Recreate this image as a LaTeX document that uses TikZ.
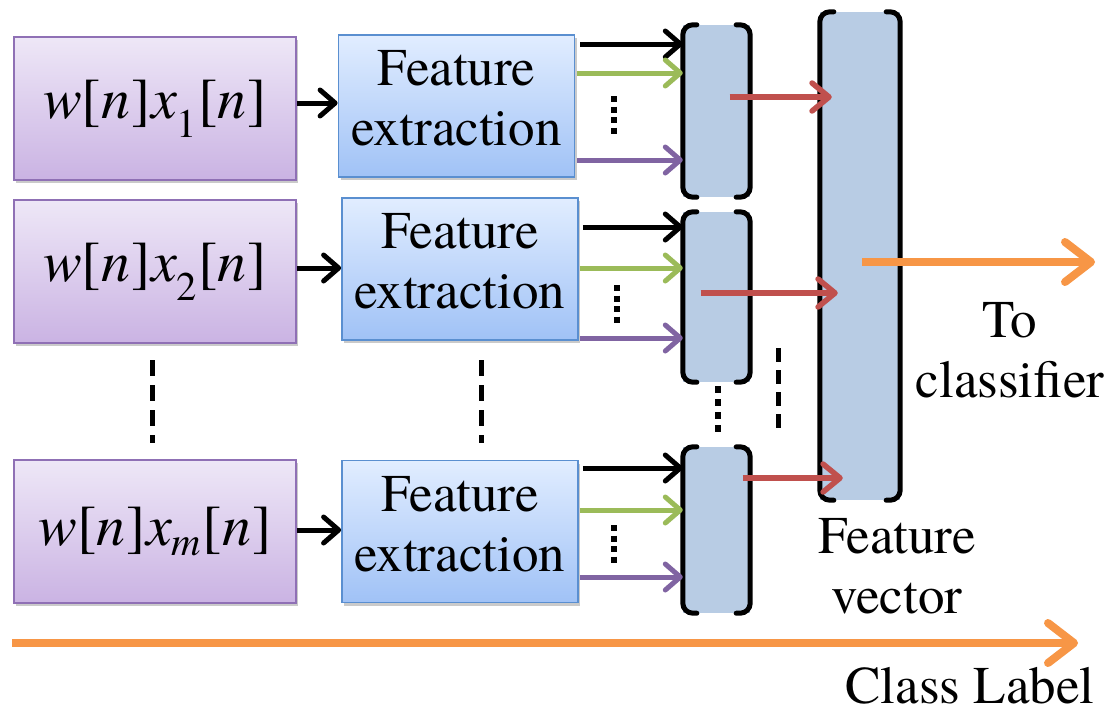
\documentclass[tikz,border=0pt]{standalone}
\usepackage{fontspec}
\setmainfont{texgyretermes}[Extension=.otf, UprightFont=*-regular, ItalicFont=*-italic,
  BoldFont=*-bold, BoldItalicFont=*-bolditalic]
\usetikzlibrary{arrows.meta,shadows,calc}

\definecolor{sigtop}{HTML}{EEE7F7}
\definecolor{sigbot}{HTML}{CAB3E3}
\definecolor{sigedge}{HTML}{8F70B5}
\definecolor{fetop}{HTML}{E1EDFF}
\definecolor{febot}{HTML}{A0C2F6}
\definecolor{feedge}{HTML}{5A8FD0}
\definecolor{vecfill}{HTML}{B8CCE4}
\definecolor{featgreen}{HTML}{9BBB59}
\definecolor{featpurple}{HTML}{8064A2}
\definecolor{featred}{HTML}{C0504D}
\definecolor{outorange}{HTML}{F79646}

% weighted signal w[n] x_k[n]
\newcommand{\wsig}[1]{\textit{w}[\textit{n}\kern1pt]\kern1pt\textit{x}\kern-1pt\textsubscript{#1}\kern1pt[\textit{n}\kern1pt]}

\begin{document}
\begin{tikzpicture}[x=1pt,y=-1pt,
  bigfont/.style={font=\fontsize{53}{60}\selectfont},
  sigfont/.style={font=\fontsize{58}{60}\selectfont},
  boxshadow/.style={drop shadow={shadow xshift=2pt,shadow yshift=-3pt,opacity=0.35,fill=black!60}},
  sigbox/.style={draw=sigedge, line width=1.8pt, top color=sigtop, bottom color=sigbot,
    minimum width=282pt, minimum height=143pt, inner sep=0pt, boxshadow, sigfont},
  febox/.style={draw=feedge, line width=1.8pt, top color=fetop, bottom color=febot,
    minimum width=236pt, minimum height=142pt, inner sep=0pt, align=center, boxshadow, bigfont},
  vecbox/.style={fill=vecfill, draw=none, inner sep=0pt},
  bracket/.style={line width=5pt, rounded corners=10pt, line cap=round},
  tiparrow/.style={line width=5pt, -{Straight Barb[length=15pt,width=26pt,line cap=round,line join=round]}},
  blkarr/.style={tiparrow, black},
  grnarr/.style={tiparrow, featgreen},
  purarr/.style={tiparrow, featpurple},
  redarr/.style={line width=5.5pt, featred, -{Straight Barb[length=17pt,width=28pt,line cap=round,line join=round]}},
  orangearr/.style={line width=8pt, outorange, -{Straight Barb[length=26pt,width=40pt,line cap=round,line join=round]}},
  rowdots/.style={line width=5.5pt, dash pattern=on 6pt off 4.5pt},
  gapdash/.style={line width=5pt, dash pattern=on 16pt off 9pt},
  txtlabel/.style={bigfont, inner sep=0pt, align=center}
]
\useasboundingbox (0,0) rectangle (1116,713);

% weighted input signals
\node[sigbox] (p1) at (155,108.5) {\wsig{1}};
\node[sigbox] (p2) at (155,271.5) {\wsig{2}};
\node[sigbox] (pm) at (155,531.5) {\wsig{\textit{m}}};

% feature extraction blocks
\node[febox] (f1) at (456.5,106) {Feature\\extraction\rule[-16pt]{0pt}{16pt}};
\node[febox] (f2) at (460,269) {Feature\\extraction\rule[-16pt]{0pt}{16pt}};
\node[febox] (fm) at (460,531.5) {Feature\\extraction\rule[-16pt]{0pt}{16pt}};

% per-signal feature vectors
\node[vecbox, minimum width=67pt, minimum height=172pt] (v1) at (716.5,111) {};
\node[vecbox, minimum width=67pt, minimum height=170pt] (v2) at (716.5,297) {};
\node[vecbox, minimum width=67pt, minimum height=166pt] (vm) at (716.5,530) {};
% combined feature vector
\node[vecbox, minimum width=80pt, minimum height=488pt] (fv) at (860,256) {};

\foreach \v in {v1,v2,vm,fv}{
  \draw[bracket] ([xshift=14pt]\v.north west) -- (\v.north west) -- (\v.south west) -- ([xshift=14pt]\v.south west);
  \draw[bracket] ([xshift=-14pt]\v.north east) -- (\v.north east) -- (\v.south east) -- ([xshift=-14pt]\v.south east);
}

% signals into feature extraction
\draw[blkarr] (p1.east |- 0,103) -- (f1.west |- 0,103);
\draw[blkarr] (p2.east |- 0,268) -- (f2.west |- 0,268);
\draw[blkarr] (pm.east |- 0,530) -- (fm.west |- 0,530);

% extracted features into the per-signal vectors
\draw[blkarr, shorten <=5pt] (f1.east |- 0,44) -- (v1.west |- 0,44);
\draw[grnarr, shorten <=2pt] (f1.east |- 0,73) -- (v1.west |- 0,73);
\draw[purarr, shorten <=2pt] (f1.east |- 0,160) -- (v1.west |- 0,160);
\draw[rowdots] (614,96) -- (614,134);

\draw[blkarr, shorten <=4pt] (f2.east |- 0,227) -- (v2.west |- 0,227);
\draw[grnarr, shorten <=1pt] (f2.east |- 0,268) -- (v2.west |- 0,268);
\draw[purarr, shorten <=1pt] (f2.east |- 0,338) -- (v2.west |- 0,338);
\draw[rowdots] (617,285) -- (617,323);

\draw[blkarr, shorten <=4pt] (fm.east |- 0,468) -- (vm.west |- 0,468);
\draw[grnarr, shorten <=1pt] (fm.east |- 0,510) -- (vm.west |- 0,510);
\draw[purarr, shorten <=1pt] (fm.east |- 0,577) -- (vm.west |- 0,577);
\draw[rowdots] (614,525) -- (614,563);

% vectors concatenated into the feature vector
\draw[redarr, shorten <=13pt, shorten >=-12pt] (v1.center |- 0,97) -- (fv.west |- 0,97);
\draw[redarr, shorten <=-16pt, shorten >=-18pt] (v2.center |- 0,293) -- (fv.west |- 0,293);
\draw[redarr, shorten <=26pt, shorten >=-23pt] (vm.center |- 0,478) -- (fv.west |- 0,478);

% omitted rows
\draw[gapdash] (152,360) -- (152,443);
\draw[gapdash] (481,360) -- (481,443);
\draw[rowdots, dash pattern=on 7pt off 6pt] (718,386) -- (718,434);
\draw[gapdash, dash pattern=on 14pt off 8pt] (778,348) -- (778,430);

% output to the classifier
\coordinate (toc) at (1095,262);
\draw[orangearr, shorten <=2pt] (fv.center |- toc) -- (toc);
\node[txtlabel, anchor=north] (tocl) at (1010,302) {To\\classifier};
\node[txtlabel, anchor=north] (fvl) at (897,518) {Feature\\vector};

% class label arrow
\coordinate (cls) at (12,643);
\coordinate (cle) at (1078,643);
\draw[orangearr] (cls) -- (cle);
\node[txtlabel, anchor=base] (cll) at (970,703) {Class Label};
\end{tikzpicture}
\end{document}
